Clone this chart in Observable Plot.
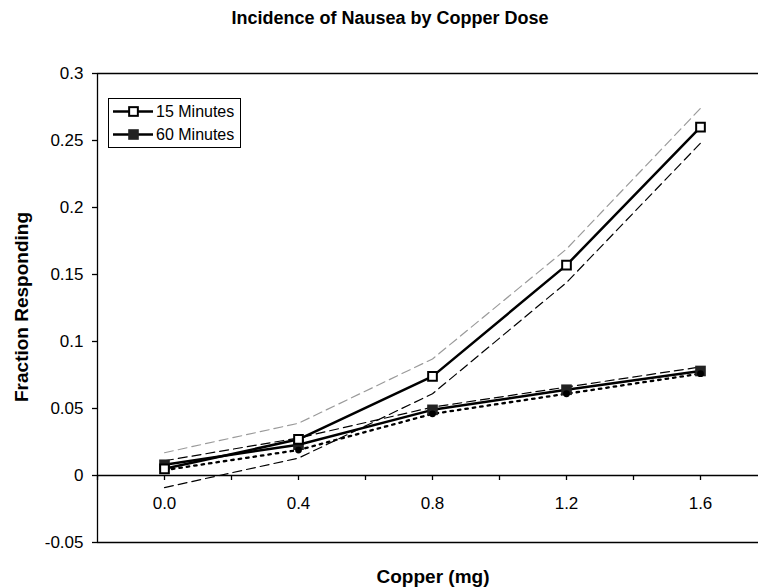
<!DOCTYPE html>
<html>
<head>
<meta charset="utf-8">
<script src="https://cdn.jsdelivr.net/npm/d3@7"></script>
<script src="https://cdn.jsdelivr.net/npm/@observablehq/plot@0.6"></script>
<style>
  html, body { margin: 0; padding: 0; background: #fff; }
  body { font-family: "Liberation Sans", Arial, sans-serif; }
  #wrap { position: relative; width: 758px; height: 587px; overflow: hidden; }
  #wrap svg.plot { position: absolute; left: 0; top: 0; overflow: hidden; }
  .lbl { position: absolute; font-weight: bold; color: #000; white-space: nowrap; }
  #title { left: 390px; top: 18px; transform: translate(-50%, -50%); font-size: 18px; }
  #xlab { left: 433px; top: 577px; transform: translate(-50%, -50%); font-size: 19px; }
  #ylab { left: 22px; top: 307px; transform: translate(-50%, -50%) rotate(-90deg); font-size: 19px; }
  #legend { position: absolute; left: 108px; top: 98px; width: 131px; height: 48px; border: 1px solid #000; background: #fff; }
</style>
</head>
<body>
<div id="wrap">
  <div class="lbl" id="title">Incidence of Nausea by Copper Dose</div>
  <div class="lbl" id="ylab">Fraction Responding</div>
  <div class="lbl" id="xlab">Copper (mg)</div>
</div>
<script>
// ---- data ----
const doses = [0.0, 0.4, 0.8, 1.2, 1.6];
const doseLabels = ["0.0", "0.4", "0.8", "1.2", "1.6"];
const xTicks = [-0.2, 0.0, 0.2, 0.4, 0.6, 0.8, 1.0, 1.2, 1.4, 1.6];
const yTicks = [-0.05, 0, 0.05, 0.1, 0.15, 0.2, 0.25, 0.3];
const seriesNames = ["15 Minutes", "60 Minutes"];

const min15      = [0.005, 0.027, 0.074, 0.157, 0.260];
const min15Upper = [0.017, 0.039, 0.087, 0.169, 0.274];
const min15Lower = [-0.009, 0.013, 0.061, 0.144, 0.248];
const min60      = [0.008, 0.023, 0.049, 0.064, 0.078];
const min60Upper = [0.011, 0.028, 0.051, 0.066, 0.081];
const min60Fit   = [0.004, 0.019, 0.046, 0.061, 0.076];

const toRows = vals => doses.map((x, i) => ({x, y: vals[i]}));

const fmtY = d => String(+d.toFixed(2));
const fmtX = d => {
  const i = doses.findIndex(v => Math.abs(v - d) < 1e-9);
  return i >= 0 ? doseLabels[i] : "";
};

const H = 587, MT = 73, MB = 45;
const yDomain = [-0.05, 0.3];
// shift of the x axis from frame bottom up to y = 0
const zeroShift = -(H - MT - MB) * (0 - yDomain[0]) / (yDomain[1] - yDomain[0]);

const chart = Plot.plot({
  width: 758,
  height: H,
  marginLeft: 97,
  marginRight: 0,
  marginTop: MT,
  marginBottom: MB,
  style: {fontFamily: '"Liberation Sans", Arial, sans-serif', fontSize: "17px", color: "#000", background: "#fff"},
  x: {type: "linear", domain: [-0.2, 1.8], range: [97, 767]},
  y: {domain: yDomain},
  marks: [
    // frame
    Plot.ruleY([yDomain[1], yDomain[0]], {stroke: "#000", strokeWidth: 1.3}),
    Plot.ruleX([-0.2], {stroke: "#000", strokeWidth: 1.3}),
    Plot.ruleY([0], {stroke: "#000", strokeWidth: 1.3}),
    Plot.axisY({ticks: yTicks, tickFormat: fmtY, tickSize: 5, tickPadding: 9, label: null, fontSize: 17, stroke: "#000", strokeWidth: 1.3}),
    Plot.axisX({ticks: xTicks, tickFormat: fmtX, anchor: "bottom", dy: zeroShift, tickSize: 5, tickPadding: 16, label: null, fontSize: 17, stroke: "#000", strokeWidth: 1.3}),
    // confidence bands
    Plot.line(toRows(min15Upper), {x: "x", y: "y", stroke: "#9a9a9a", strokeWidth: 1.2, strokeDasharray: "9,5"}),
    Plot.line(toRows(min15Lower), {x: "x", y: "y", stroke: "#000", strokeWidth: 1.2, strokeDasharray: "9,5"}),
    Plot.line(toRows(min60Upper), {x: "x", y: "y", stroke: "#000", strokeWidth: 1.2, strokeDasharray: "9,5"}),
    Plot.line(toRows(min60Fit), {x: "x", y: "y", stroke: "#000", strokeWidth: 2.3, strokeDasharray: "2.5,5"}),
    // main series
    Plot.line(toRows(min60), {x: "x", y: "y", stroke: "#000", strokeWidth: 2.5}),
    Plot.line(toRows(min15), {x: "x", y: "y", stroke: "#000", strokeWidth: 2.5}),
    Plot.dot(toRows(min60), {x: "x", y: "y", symbol: "square", r: 6, fill: "#222", stroke: "none"}),
    Plot.dot(toRows(min60Fit), {x: "x", y: "y", symbol: "circle", r: 3.4, fill: "#000", stroke: "none"}),
    Plot.dot(toRows(min15), {x: "x", y: "y", symbol: "square", r: 4.9, fill: "#fff", stroke: "#000", strokeWidth: 2})
  ]
});
chart.classList.add("plot");
const wrap = document.getElementById("wrap");
wrap.insertBefore(chart, wrap.firstChild);

// legend
const legend = document.createElement("div");
legend.id = "legend";
const ls = d3.create("svg").attr("width", 131).attr("height", 48)
  .style("font-family", '"Liberation Sans", Arial, sans-serif');
const items = [
  {name: seriesNames[0], fill: "#fff", stroke: "#000", side: 8.7, sw: 2},
  {name: seriesNames[1], fill: "#222", stroke: "none", side: 10.6, sw: 0}
];
items.forEach((it, i) => {
  const cy = 12.5 + i * 23;
  const g = ls.append("g");
  g.append("line").attr("x1", 4).attr("x2", 44).attr("y1", cy).attr("y2", cy)
    .attr("stroke", "#000").attr("stroke-width", 2.5);
  g.append("rect").attr("x", 24.5 - it.side / 2).attr("y", cy - it.side / 2)
    .attr("width", it.side).attr("height", it.side)
    .attr("fill", it.fill).attr("stroke", it.stroke).attr("stroke-width", it.sw);
  g.append("text").attr("x", 47).attr("y", cy).attr("dy", "0.35em")
    .attr("font-size", 16).attr("fill", "#000").text(it.name);
});
legend.appendChild(ls.node());
wrap.appendChild(legend);
</script>
</body>
</html>
